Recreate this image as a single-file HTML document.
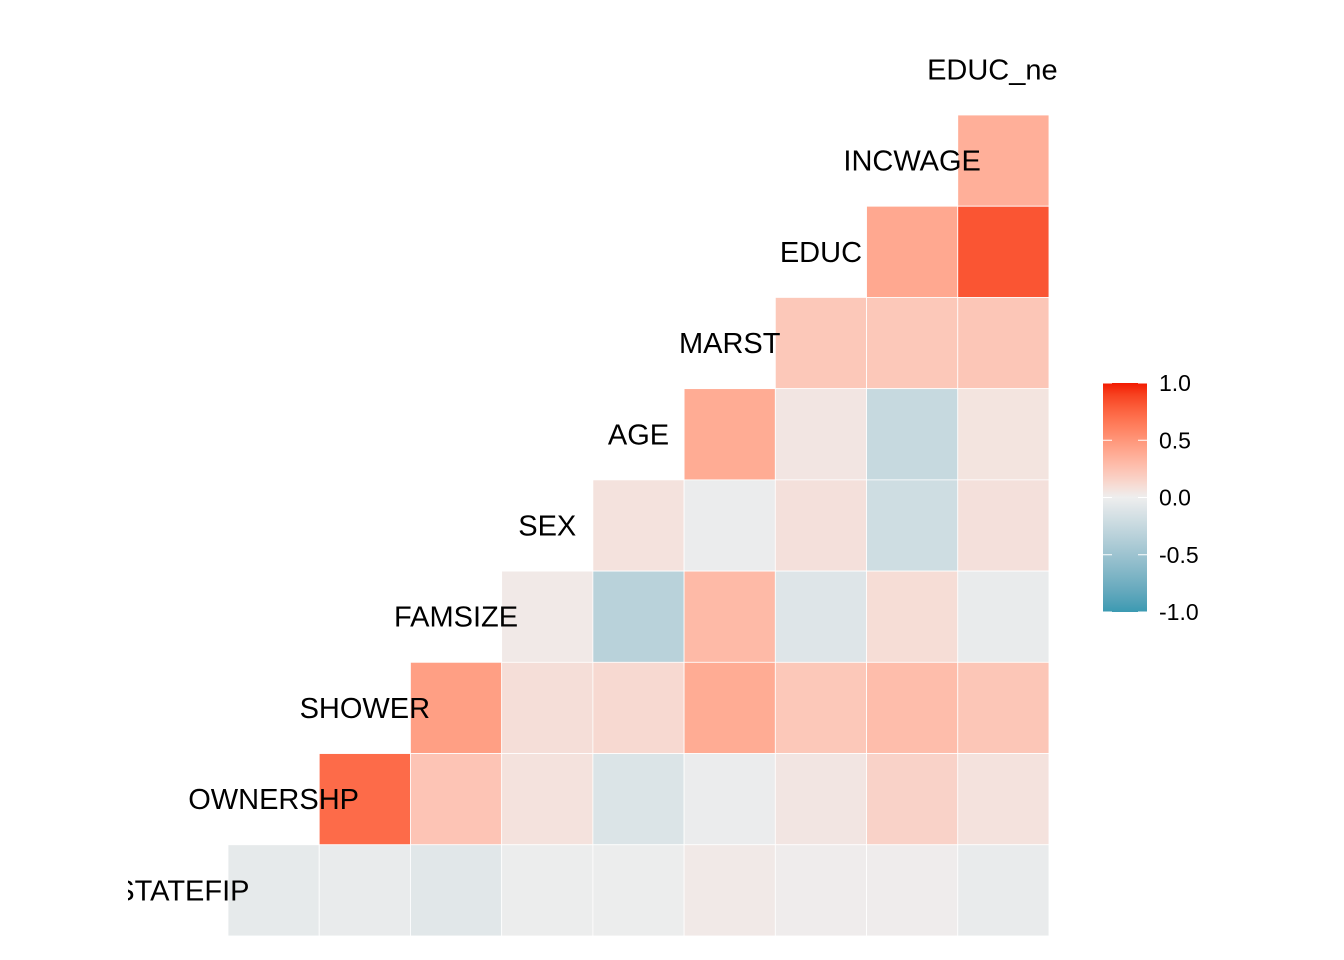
<!DOCTYPE html>
<html><head><meta charset="utf-8"><style>
html,body{margin:0;padding:0;background:#fff;}
svg{display:block;font-family:"Liberation Sans",Arial,sans-serif;}
</style></head><body>
<svg id="chart" width="1344" height="960">
<defs>
<clipPath id="panel"><rect x="128" y="0" width="1000" height="960"/></clipPath>
<linearGradient id="grad" x1="0" y1="1" x2="0" y2="0"></linearGradient>
</defs>
<g id="cells"></g>
<g id="labels" clip-path="url(#panel)"></g>
<g id="legend">
<rect x="1103" y="383" width="44" height="229" fill="url(#grad)"/>
</g>
</svg>
<script>
const variables = ["STATEFIP","OWNERSHP","SHOWER","FAMSIZE","SEX","AGE","MARST","EDUC","INCWAGE","EDUC_ne"];
// row r (0 = top) holds cells for columns 8-r .. 8
const corrRows = [
 [0.36],
 [0.40,0.82],
 [0.22,0.22,0.23],
 [0.38,0.05,-0.25,0.06],
 [0.07,-0.02,0.08,-0.20,0.08],
 [0.03,-0.33,0.30,-0.10,0.10,-0.03],
 [0.45,0.09,0.12,0.38,0.22,0.28,0.23],
 [0.72,0.24,0.07,-0.12,-0.02,0.05,0.16,0.07],
 [-0.05,-0.03,-0.08,-0.01,-0.01,0.03,0.01,0.01,-0.03]
];
const legendTicks = [1.0,0.5,0.0,-0.5,-1.0];
const legendLabels = ["1.0","0.5","0.0","-0.5","-1.0"];

const NS="http://www.w3.org/2000/svg";
const x0=228, y0=115, cw=91.22, ch=91.22;
const xPos = c => x0 + c*cw;
const yPos = r => y0 + r*ch;

function s2l(c){c/=255;return c<=0.04045?c/12.92:Math.pow((c+0.055)/1.055,2.4);}
function l2s(c){c=c<=0.0031308?12.92*c:1.055*Math.pow(c,1/2.4)-0.055;return Math.max(0,Math.min(255,Math.round(c*255)));}
function toLab(rgb){
  const [r,g,b]=rgb.map(s2l);
  let X=(0.4124*r+0.3576*g+0.1805*b)/0.95047, Y=0.2126*r+0.7152*g+0.0722*b, Z=(0.0193*r+0.1192*g+0.9505*b)/1.08883;
  const f=t=>t>0.008856?Math.cbrt(t):7.787*t+16/116;
  return [116*f(Y)-16,500*(f(X)-f(Y)),200*(f(Y)-f(Z))];
}
function fromLab(lab){
  const fy=(lab[0]+16)/116, fx=fy+lab[1]/500, fz=fy-lab[2]/200;
  const fi=t=>t*t*t>0.008856?t*t*t:(t-16/116)/7.787;
  const X=fi(fx)*0.95047, Y=fi(fy), Z=fi(fz)*1.08883;
  const r=3.2406*X-1.5372*Y-0.4986*Z, g=-0.9689*X+1.8758*Y+0.0415*Z, b=0.0557*X-0.2040*Y+1.0570*Z;
  return [l2s(r),l2s(g),l2s(b)];
}
const LO=toLab([59,154,178]), MID=toLab([238,238,238]), HI=toLab([242,26,0]);
function color(v){
  const t=Math.max(-1,Math.min(1,v));
  const [a,b,u]= t<0?[MID,LO,-t]:[MID,HI,t];
  const c=fromLab([0,1,2].map(i=>a[i]+(b[i]-a[i])*u));
  return `rgb(${c[0]},${c[1]},${c[2]})`;
}
const grad=document.getElementById('grad');
for(let i=0;i<=20;i++){
  const s=document.createElementNS(NS,'stop');
  s.setAttribute('offset',i/20); s.setAttribute('stop-color',color(-1+i/10));
  grad.appendChild(s);
}
const cells=document.getElementById('cells');
corrRows.forEach((row,r)=>{
  row.forEach((v,i)=>{
    const c = 9-row.length+i;
    const rect=document.createElementNS(NS,'rect');
    rect.setAttribute('x',xPos(c)); rect.setAttribute('y',yPos(r));
    rect.setAttribute('width',cw); rect.setAttribute('height',ch);
    rect.setAttribute('fill',color(v)); rect.setAttribute('stroke','#ffffff'); rect.setAttribute('stroke-width','0.8');
    
    
    cells.appendChild(rect);
  });
});
const labels=document.getElementById('labels');
variables.forEach((name,k)=>{
  const t=document.createElementNS(NS,'text');
  let cx = xPos(k-1)+cw/2;
  if(k===9) cx -= 11;
  t.setAttribute('x',cx); t.setAttribute('y',yPos(9-k)-ch/2+10);
  t.setAttribute('text-anchor','middle'); t.setAttribute('font-size','29'); t.setAttribute('fill','#000');
  t.textContent=name;
  
  
  labels.appendChild(t);
});
const legend=document.getElementById('legend');
const ly = v => 497.5 - v*114.5;
legendTicks.forEach((v,i)=>{
  ['1103','1138'].forEach(x=>{
    const l=document.createElementNS(NS,'line');
    l.setAttribute('x1',x); l.setAttribute('x2',+x+9); l.setAttribute('y1',ly(v)); l.setAttribute('y2',ly(v));
    l.setAttribute('stroke','#fff'); l.setAttribute('stroke-width','1');
    
    
    legend.appendChild(l);
  });
  const t=document.createElementNS(NS,'text');
  t.setAttribute('x',1159); t.setAttribute('y',ly(v)+8);
  t.setAttribute('font-size','23'); t.setAttribute('fill','#000');
  t.textContent=legendLabels[i];
  
  
  legend.appendChild(t);
});
</script>
</body></html>
